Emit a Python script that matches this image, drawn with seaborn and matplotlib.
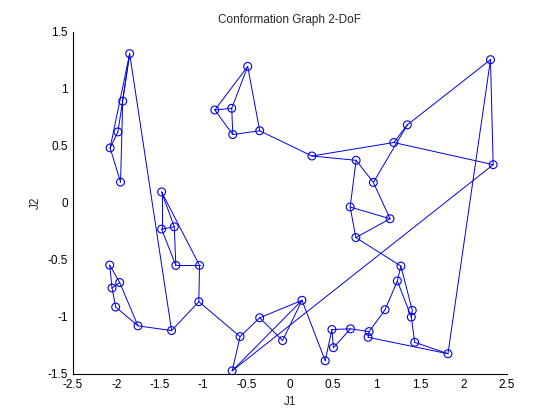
import numpy as np
import pandas as pd
import matplotlib
matplotlib.use("Agg")
import matplotlib.pyplot as plt
import seaborn as sns

# node coordinates (J1, J2)
j1 = [-1.845, -1.925, -1.98, -2.07, -1.95,
      -1.477, -1.477, -1.331, -1.313, -1.04, -1.048, -1.362,
      -2.075, -1.96, -2.048, -2.006, -1.749,
      -0.485, -0.864, -0.669, -0.657, -0.347, 0.255,
      0.764, 1.198, 1.354, 0.963, 0.695, 1.155, 0.761,
      2.312, 2.343,
      1.28, 1.239, 1.098, 1.411, 1.40, 1.439, 1.822,
      0.14, 0.408, 0.485, 0.503, 0.699, 0.914, 0.902,
      -0.664, -0.573, -0.347, -0.083]
j2 = [1.306, 0.89, 0.62, 0.48, 0.18,
      0.094, -0.232, -0.212, -0.55, -0.55, -0.868, -1.121,
      -0.547, -0.70, -0.748, -0.915, -1.08,
      1.194, 0.812, 0.827, 0.597, 0.63, 0.409,
      0.371, 0.527, 0.682, 0.177, -0.038, -0.141, -0.306,
      1.253, 0.333,
      -0.556, -0.686, -0.938, -0.944, -1.003, -1.224, -1.324,
      -0.856, -1.386, -1.112, -1.271, -1.106, -1.13, -1.18,
      -1.474, -1.174, -1.009, -1.209]

# graph edges (node index pairs)
edge_from = [0, 0, 0, 1, 2, 3, 0,
             5, 5, 5, 6, 6, 7, 8, 9, 10, 10, 11,
             12, 12, 13, 14, 13, 15,
             17, 17, 17, 18, 18, 19, 20, 21,
             22, 22, 24, 25, 24, 25, 23, 23, 26, 27, 27, 28, 29,
             30, 30, 31,
             32, 32, 33, 33, 35, 36, 37, 34, 45,
             39, 40, 41, 42, 41, 43, 44,
             46, 47, 48, 48, 49, 46]
edge_to = [1, 2, 3, 4, 3, 4, 11,
           6, 7, 9, 7, 8, 8, 9, 10, 11, 47, 16,
           13, 14, 14, 15, 16, 16,
           18, 19, 21, 19, 20, 20, 21, 22,
           23, 24, 25, 26, 31, 30, 26, 27, 28, 28, 29, 29, 32,
           31, 38, 46,
           33, 35, 34, 36, 36, 37, 38, 44, 38,
           40, 41, 42, 43, 43, 44, 45,
           47, 48, 49, 39, 39, 39]

rows = []
for k, (a, b) in enumerate(zip(edge_from, edge_to)):
    rows.append((k, j1[a], j2[a]))
    rows.append((k, j1[b], j2[b]))
edges = pd.DataFrame(rows, columns=["edge", "J1", "J2"])
nodes = pd.DataFrame({"J1": j1, "J2": j2})

sns.set_style("white")
plt.rcParams["font.family"] = ["Liberation Sans", "DejaVu Sans"]

fig = plt.figure(figsize=(5.6, 4.2), dpi=100)
ax = fig.add_axes([0.13, 0.11, 0.775, 0.815])

sns.lineplot(data=edges, x="J1", y="J2", units="edge", estimator=None,
             sort=False, color="#0000e6", linewidth=0.7, ax=ax)
sns.scatterplot(data=nodes, x="J1", y="J2", marker="o", s=32,
                facecolors="none", edgecolor="#0000e6", linewidth=0.8, ax=ax)

ax.set_xlim(-2.5, 2.5)
ax.set_ylim(-1.5, 1.5)
ax.set_xticks(np.arange(-2.5, 2.51, 0.5))
ax.set_yticks(np.arange(-1.5, 1.51, 0.5))
ax.set_xticklabels(["-2.5", "-2", "-1.5", "-1", "-0.5", "0", "0.5", "1", "1.5", "2", "2.5"])
ax.set_yticklabels(["-1.5", "-1", "-0.5", "0", "0.5", "1", "1.5"])
ax.tick_params(direction="in", length=4, width=0.8, labelsize=8.5, colors="black")
sns.despine(ax=ax)
for s in ["left", "bottom"]:
    ax.spines[s].set_color("black")
    ax.spines[s].set_linewidth(0.8)

ax.set_title("Conformation Graph 2-DoF", fontsize=8.5)
ax.set_xlabel("J1", fontsize=8.5)
ax.set_ylabel("J2", fontsize=8.5)

fig.savefig("out.png", dpi=100, facecolor="white")
